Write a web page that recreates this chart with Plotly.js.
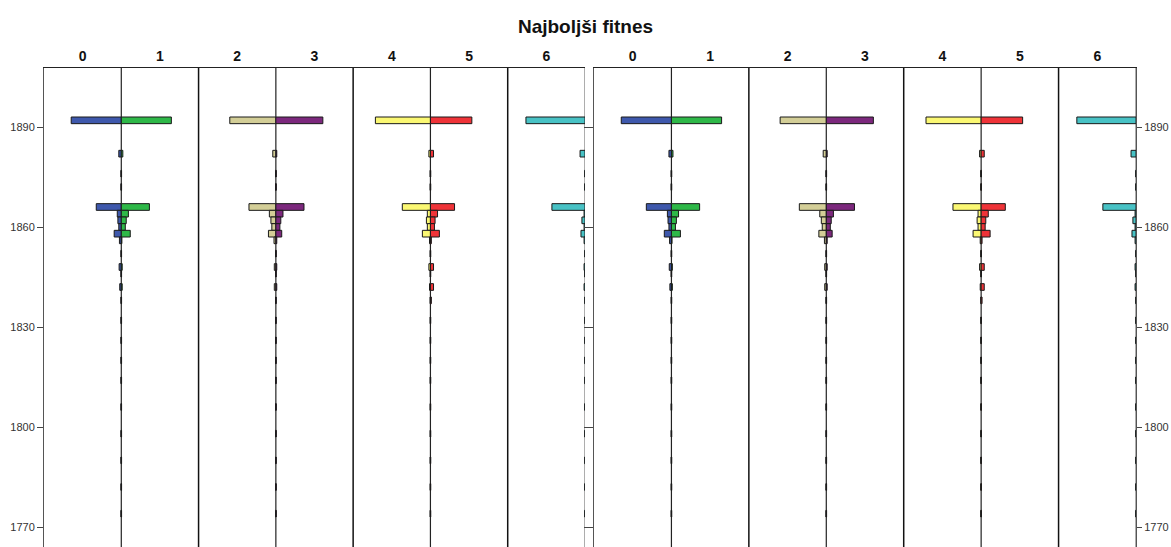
<!DOCTYPE html>
<html>
<head>
<meta charset="utf-8">
<script src="https://cdn.plot.ly/plotly-3.0.1.min.js"></script>
<style>html,body{margin:0;padding:0;background:#fff;}#chart{width:1171px;height:547px;}</style>
</head>
<body>
<div id="chart"></div>
<script>
// Year bins (2-year wide)
const binYears = [1892, 1882, 1876, 1872, 1866, 1864, 1862, 1860, 1858, 1856, 1852, 1848, 1846, 1842, 1838, 1832, 1826, 1820, 1814, 1806, 1798, 1790, 1782, 1774];
// Frequencies per fitness category (estimated)
const cat0 = [16.2, 0.8, 0.1, 0.1, 8.1, 1.3, 1.1, 0.8, 2.3, 0.6, 0.1, 0.7, 0.1, 0.5, 0.1, 0.1, 0.1, 0.1, 0.1, 0.1, 0.1, 0.1, 0.1, 0.1];
const cat1 = [16.2, 0.5, 0.1, 0.1, 9.1, 2.3, 1.6, 1.3, 2.9, 0.2, 0.1, 0.3, 0.1, 0.3, 0.1, 0.1, 0.1, 0.1, 0.1, 0.1, 0.1, 0.1, 0.1, 0.1];
const cat2 = [14.9, 1.0, 0.1, 0.1, 8.7, 2.1, 1.6, 1.3, 2.4, 0.6, 0.1, 0.5, 0.1, 0.5, 0.1, 0.1, 0.1, 0.1, 0.1, 0.1, 0.1, 0.1, 0.1, 0.1];
const cat3 = [15.2, 0.3, 0.1, 0.1, 9.1, 2.3, 1.6, 1.3, 1.9, 0.3, 0.1, 0.3, 0.1, 0.3, 0.1, 0.1, 0.1, 0.1, 0.1, 0.1, 0.1, 0.1, 0.1, 0.1];
const cat4 = [17.8, 0.5, 0.1, 0.1, 9.1, 1.0, 1.3, 1.0, 2.6, 0.3, 0.1, 0.5, 0.1, 0.3, 0.1, 0.1, 0.1, 0.1, 0.1, 0.1, 0.1, 0.1, 0.1, 0.1];
const cat5 = [13.4, 1.0, 0.1, 0.1, 7.8, 2.3, 1.5, 1.3, 2.9, 0.3, 0.1, 1.0, 0.1, 1.0, 0.3, 0.1, 0.1, 0.1, 0.1, 0.1, 0.1, 0.1, 0.1, 0.1];
const cat6 = [19.1, 1.6, 0.1, 0.1, 10.7, 0.3, 1.0, 0.3, 1.3, 0.3, 0.1, 0.3, 0.1, 0.3, 0.1, 0.1, 0.1, 0.1, 0.1, 0.1, 0.1, 0.1, 0.1, 0.1];
const catLabels = ['0', '1', '2', '3', '4', '5', '6'];
const catColors = ['#3E58AC', '#2EB848', '#D3CE97', '#7C287D', '#FBF873', '#EF3338', '#48C2C5'];
const yTicks = [1770, 1800, 1830, 1860, 1890];
const titleText = 'Najboljši fitnes';

const series = [cat0, cat1, cat2, cat3, cat4, cat5, cat6];
const M = 25;               // half width of one pyramid panel (frequency units)
const W = 7 * M;            // visible width of each half
const yRange = [1764, 1907.7];
const FW = 1171, FH = 547;

const traces = [];
['', '2'].forEach(function (suf) {
  series.forEach(function (vals, k) {
    const panel = Math.floor(k / 2);
    const center = (2 * panel + 1) * M;
    const left = (k % 2 === 0);
    traces.push({
      type: 'bar', orientation: 'h',
      y: binYears,
      x: vals.map(v => left ? -v : v),
      base: center,
      width: 2,
      marker: {color: catColors[k], line: {color: '#1a1a1a', width: 1}},
      xaxis: 'x' + suf, yaxis: 'y' + suf,
      hoverinfo: 'skip', showlegend: false
    });
  });
});
// dummy trace so the extra left axis of the right half is drawn
traces.push({type: 'scatter', x: [null], y: [null], xaxis: 'x2', yaxis: 'y3', showlegend: false, hoverinfo: 'skip'});

const tickPos = catLabels.map((c, i) => (i + 0.5) * M);
const font = 'Liberation Sans, Arial, sans-serif';

function xAxis(d0, d1, anchor) {
  return {
    domain: [d0 / FW, d1 / FW], range: [0, W], anchor: anchor, side: 'top',
    tickvals: tickPos, ticktext: catLabels, ticks: '',
    tickfont: {family: font, size: 14, color: '#111', weight: 'bold'},
    showgrid: false, zeroline: false, showline: true, linecolor: '#222', linewidth: 1,
    fixedrange: true
  };
}
const yDom = [0, (FH - 68) / FH];
function yAxis(anchor, side, len, labels) {
  return {
    domain: yDom, range: yRange, anchor: anchor, side: side,
    tickvals: yTicks, ticks: 'outside', ticklen: len, tickcolor: '#444', tickwidth: 1,
    showticklabels: labels,
    tickfont: {family: font, size: 11, color: '#333'},
    showgrid: false, zeroline: false, showline: true, linecolor: '#555', linewidth: 1,
    fixedrange: true
  };
}

const shapes = [];
['x', 'x2'].forEach(function (xr, h) {
  const yr = h === 0 ? 'y domain' : 'y2 domain';
  [2, 4, 6].forEach(function (m) {
    shapes.push({type: 'line', xref: xr, yref: yr, x0: m * M, x1: m * M, y0: 0, y1: 1,
      line: {color: '#111', width: 1.5}, layer: 'above'});
  });
  [1, 3, 5, 7].forEach(function (m) {
    shapes.push({type: 'line', xref: xr, yref: yr, x0: m * M, x1: m * M, y0: 0, y1: 1,
      line: {color: m === 7 ? '#777' : '#222', width: 1.2}, layer: 'below'});
  });
});

const layout = {
  width: FW, height: FH,
  margin: {l: 0, r: 0, t: 0, b: 0},
  paper_bgcolor: '#ffffff', plot_bgcolor: 'rgba(0,0,0,0)',
  barmode: 'overlay', showlegend: false,
  title: {text: titleText, x: 0.5, xanchor: 'center', y: 1 - 26 / FH, yanchor: 'middle',
    font: {family: font, size: 19, color: '#111', weight: 'bold'}},
  xaxis: xAxis(44, 585, 'y'),
  xaxis2: xAxis(594, 1136, 'y2'),
  yaxis: yAxis('x', 'left', 6, true),
  yaxis2: yAxis('x2', 'right', 5, true),
  yaxis3: Object.assign(yAxis('x2', 'left', 9, false), {overlaying: 'y2'}),
  shapes: shapes
};

Plotly.newPlot('chart', traces, layout, {displayModeBar: false, staticPlot: true});
</script>
</body>
</html>
